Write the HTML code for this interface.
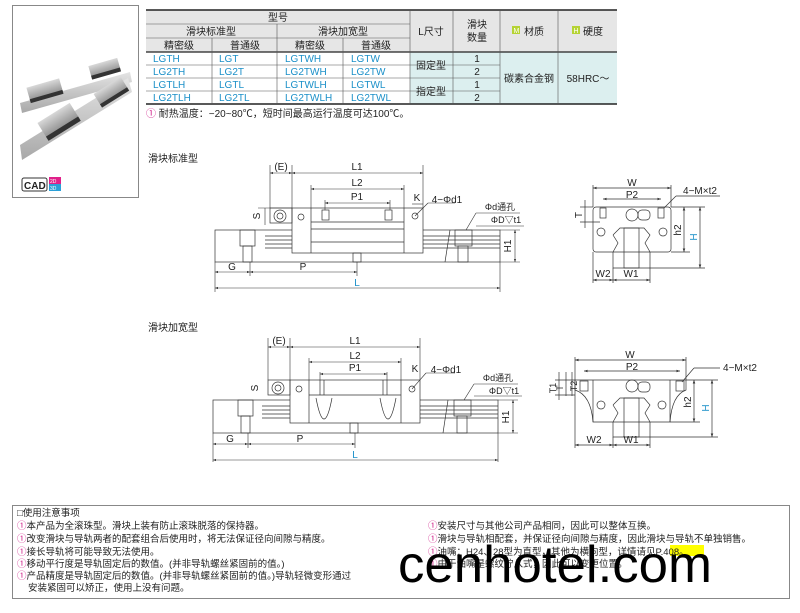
<!DOCTYPE html>
<html><head><meta charset="utf-8"><style>
body{margin:0;background:#fff;width:800px;height:608px;overflow:hidden;font-family:"Liberation Sans","Noto Sans CJK SC",sans-serif;}
svg text{font-family:"Liberation Sans","Noto Sans CJK SC",sans-serif;}
</style></head><body>
<svg width="800" height="608" viewBox="0 0 800 608" xmlns="http://www.w3.org/2000/svg">
<defs>
<marker id="a" viewBox="0 0 6 6" refX="6" refY="3" markerWidth="5" markerHeight="5" orient="auto-start-reverse"><path d="M0,0.8L6,3L0,5.2z" fill="#333"/></marker>
<linearGradient id="rg" x1="0" y1="0" x2="0" y2="1"><stop offset="0" stop-color="#e4e4e4"/><stop offset="1" stop-color="#a8a8a8"/></linearGradient>
<linearGradient id="bg" x1="0" y1="0" x2="0" y2="1"><stop offset="0" stop-color="#d8d8d8"/><stop offset="1" stop-color="#8a8a8a"/></linearGradient>
</defs>
<!-- left product panel -->
<rect x="12.5" y="5.5" width="126" height="192" fill="#fff" stroke="#888"/>
<g>
<polygon points="20,103 130,72 132,82 22,113" fill="url(#rg)"/>
<polygon points="20,145 128,78 132,92 22,160" fill="url(#rg)"/>
<g transform="rotate(-16 104 70)"><rect x="90" y="62" width="30" height="13" fill="url(#bg)"/><rect x="90" y="72" width="30" height="4" fill="#333"/></g>
<g transform="rotate(-16 44 91)"><rect x="28" y="83" width="34" height="15" fill="url(#bg)"/><rect x="28" y="95" width="34" height="4" fill="#333"/></g>
<g transform="rotate(-32 110 92)"><rect x="95" y="85" width="32" height="15" fill="url(#bg)"/><rect x="95" y="97" width="32" height="4" fill="#333"/></g>
<g transform="rotate(-32 58 122)"><rect x="40" y="112" width="38" height="19" fill="url(#bg)"/><rect x="40" y="128" width="38" height="5" fill="#333"/></g>
</g>
<rect x="22" y="178" width="25" height="13" fill="#fff" stroke="#333" rx="2"/>
<text x="24" y="189" font-size="10" font-weight="bold" fill="#222">CAD</text>
<rect x="49" y="177" width="12" height="7" fill="#e0208a"/><rect x="49" y="184" width="12" height="7" fill="#2aa0d8"/>
<text x="50" y="183" font-size="5" fill="#fff">2D</text><text x="50" y="190" font-size="5" fill="#fff">3D</text>

<!-- table -->
<g font-size="10" fill="#222">
<rect x="146" y="10" width="264" height="42" fill="#e6e6e6"/>
<rect x="410" y="10" width="207" height="42" fill="#e6e6e6"/>
<rect x="410" y="52" width="207" height="52" fill="#dcefef"/>
<g stroke="#555" stroke-width="0.6" fill="none">
<line x1="146" y1="10" x2="617" y2="10" stroke-width="1.6" stroke="#222"/>
<line x1="146" y1="24" x2="410" y2="24"/><line x1="146" y1="38" x2="410" y2="38"/>
<line x1="146" y1="52" x2="617" y2="52" stroke-width="1.2" stroke="#222"/>
<line x1="146" y1="65" x2="500" y2="65"/><line x1="146" y1="78" x2="500" y2="78"/><line x1="146" y1="91" x2="500" y2="91"/>
<line x1="146" y1="104" x2="617" y2="104" stroke-width="1.6" stroke="#222"/>
<line x1="212" y1="38" x2="212" y2="104"/><line x1="277" y1="24" x2="277" y2="104"/><line x1="343" y1="38" x2="343" y2="104"/>
<line x1="410" y1="10" x2="410" y2="104"/><line x1="453" y1="10" x2="453" y2="104"/><line x1="500" y1="10" x2="500" y2="104"/><line x1="558" y1="10" x2="558" y2="104"/>
</g>
<g text-anchor="middle">
<text x="278" y="21">型号</text>
<text x="211" y="35">滑块标准型</text><text x="343" y="35">滑块加宽型</text>
<text x="179" y="49">精密级</text><text x="245" y="49">普通级</text><text x="310" y="49">精密级</text><text x="376" y="49">普通级</text>
<text x="431" y="35">L尺寸</text><text x="477" y="28">滑块</text><text x="477" y="41">数量</text>
<text x="534" y="35">材质</text><text x="593" y="35">硬度</text>
<text x="431" y="69">固定型</text><text x="431" y="95">指定型</text>
<text x="477" y="62">1</text><text x="477" y="75">2</text><text x="477" y="88">1</text><text x="477" y="101">2</text>
<text x="529" y="82">碳素合金钢</text><text x="588" y="82">58HRC～</text>
</g>
<rect x="512" y="26" width="8" height="8" fill="#b5d334"/><text x="513.5" y="33" font-size="7" fill="#fff">M</text>
<rect x="572" y="26" width="8" height="8" fill="#b5d334"/><text x="573.5" y="33" font-size="7" fill="#fff">H</text>
<g fill="#1a8fc8">
<text x="153" y="62">LGTH</text><text x="219" y="62">LGT</text><text x="285" y="62">LGTWH</text><text x="351" y="62">LGTW</text>
<text x="153" y="75">LG2TH</text><text x="219" y="75">LG2T</text><text x="285" y="75">LG2TWH</text><text x="351" y="75">LG2TW</text>
<text x="153" y="88">LGTLH</text><text x="219" y="88">LGTL</text><text x="285" y="88">LGTWLH</text><text x="351" y="88">LGTWL</text>
<text x="153" y="101">LG2TLH</text><text x="219" y="101">LG2TL</text><text x="285" y="101">LG2TWLH</text><text x="351" y="101">LG2TWL</text>
</g>
<text x="146" y="117" font-size="10"><tspan fill="#d0208a">①</tspan> 耐热温度：−20~80℃，短时间最高运行温度可达100℃。</text>
</g>

<text x="148" y="162" font-size="10" fill="#222">滑块标准型</text>
<text x="148" y="331" font-size="10" fill="#222">滑块加宽型</text>

<!-- side view 1 -->
<g stroke="#333" stroke-width="0.7" fill="none">
<rect x="215" y="230" width="285" height="32"/>
<line x1="265" y1="236" x2="500" y2="236"/><line x1="265" y1="240" x2="500" y2="240"/><line x1="265" y1="244" x2="500" y2="244"/><line x1="265" y1="248" x2="500" y2="248"/>
<rect x="292" y="208" width="131" height="45" fill="#fff"/>
<line x1="311" y1="208" x2="311" y2="253"/><line x1="404" y1="208" x2="404" y2="253"/>
<line x1="311" y1="222" x2="404" y2="222"/><line x1="311" y1="229" x2="404" y2="229"/><line x1="311" y1="242" x2="404" y2="242"/>
<rect x="270" y="208" width="22" height="15"/>
<circle cx="280" cy="216" r="6"/><circle cx="280" cy="216" r="3"/>
<circle cx="301" cy="217" r="3"/><circle cx="415" cy="216" r="3"/>
<rect x="322" y="210" width="7" height="10"/><rect x="385" y="210" width="7" height="10"/>
<rect x="240" y="230" width="15" height="16"/><rect x="243" y="246" width="9" height="16"/>
<rect x="455" y="230" width="17" height="16"/><rect x="458" y="246" width="10" height="16"/>
<rect x="353" y="253" width="8" height="9"/>
<line x1="450" y1="230" x2="445" y2="262"/>
</g>
<g stroke="#333" stroke-width="0.6" fill="none">
<line x1="270" y1="165" x2="270" y2="208"/><line x1="292" y1="165" x2="292" y2="208"/><line x1="423" y1="165" x2="423" y2="208"/>
<line x1="270" y1="173" x2="292" y2="173" marker-start="url(#a)" marker-end="url(#a)"/>
<line x1="292" y1="173" x2="423" y2="173" marker-start="url(#a)" marker-end="url(#a)"/>
<line x1="311" y1="185" x2="311" y2="208"/><line x1="404" y1="185" x2="404" y2="208"/>
<line x1="311" y1="189" x2="404" y2="189" marker-start="url(#a)" marker-end="url(#a)"/>
<line x1="325" y1="200" x2="325" y2="210"/><line x1="390" y1="200" x2="390" y2="210"/>
<line x1="325" y1="203" x2="390" y2="203" marker-start="url(#a)" marker-end="url(#a)"/>
<line x1="412" y1="204" x2="423" y2="204"/>
<line x1="415" y1="216" x2="428" y2="203"/><line x1="428" y1="203" x2="455" y2="203"/>
<line x1="466" y1="230" x2="476" y2="213"/><line x1="476" y1="213" x2="520" y2="213"/>
<line x1="476" y1="226" x2="524" y2="226"/>
<line x1="265" y1="208" x2="265" y2="225"/><line x1="258" y1="208" x2="292" y2="208"/>
<line x1="500" y1="230" x2="520" y2="230"/><line x1="500" y1="262" x2="520" y2="262"/>
<line x1="515" y1="230" x2="515" y2="262" marker-start="url(#a)" marker-end="url(#a)"/>
<line x1="215" y1="262" x2="215" y2="292"/><line x1="500" y1="262" x2="500" y2="292"/><line x1="250" y1="262" x2="250" y2="276"/><line x1="357" y1="262" x2="357" y2="276"/>
<line x1="215" y1="272" x2="250" y2="272" marker-start="url(#a)" marker-end="url(#a)"/>
<line x1="250" y1="272" x2="357" y2="272" marker-start="url(#a)" marker-end="url(#a)"/>
<line x1="215" y1="288" x2="500" y2="288" marker-start="url(#a)" marker-end="url(#a)"/>
</g>
<g font-size="10" fill="#222" text-anchor="middle">
<text x="281" y="170">(E)</text><text x="357" y="170">L1</text><text x="357" y="186">L2</text><text x="357" y="200">P1</text>
<text x="417" y="201">K</text><text x="447" y="203">4−Φd1</text>
<text x="500" y="210" font-size="9">Φd通孔</text><text x="506" y="223" font-size="9">ΦD▽t1</text>
<text x="260" y="216" transform="rotate(-90 260 216)">S</text>
<text x="511" y="246" transform="rotate(-90 511 246)">H1</text>
<text x="232" y="270">G</text><text x="303" y="270">P</text><text x="357" y="286" fill="#1a8fc8">L</text>
</g>

<!-- side view 2 -->
<g stroke="#333" stroke-width="0.7" fill="none">
<rect x="213" y="400" width="285" height="33"/>
<line x1="262" y1="406" x2="498" y2="406"/><line x1="262" y1="410" x2="498" y2="410"/><line x1="262" y1="414" x2="498" y2="414"/><line x1="262" y1="418" x2="498" y2="418"/>
<rect x="290" y="380" width="130" height="43" fill="#fff"/>
<line x1="309" y1="380" x2="309" y2="423"/><line x1="401" y1="380" x2="401" y2="423"/>
<line x1="309" y1="395" x2="401" y2="395"/>
<path d="M316,398 Q324,440 332,398 M380,398 Q388,440 396,398"/>
<rect x="268" y="380" width="22" height="15"/>
<circle cx="278" cy="388" r="6"/><circle cx="278" cy="388" r="3"/>
<circle cx="299" cy="389" r="3"/><circle cx="412" cy="389" r="3"/>
<line x1="320" y1="380" x2="320" y2="395"/><line x1="324" y1="380" x2="324" y2="395"/><line x1="383" y1="380" x2="383" y2="395"/><line x1="387" y1="380" x2="387" y2="395"/>
<rect x="238" y="400" width="15" height="16"/><rect x="241" y="416" width="9" height="17"/>
<rect x="454" y="400" width="17" height="16"/><rect x="457" y="416" width="10" height="17"/>
<rect x="350" y="423" width="8" height="10"/>
<line x1="448" y1="400" x2="443" y2="433"/>
</g>
<g stroke="#333" stroke-width="0.6" fill="none">
<line x1="268" y1="338" x2="268" y2="380"/><line x1="290" y1="338" x2="290" y2="380"/><line x1="420" y1="338" x2="420" y2="380"/>
<line x1="268" y1="347" x2="290" y2="347" marker-start="url(#a)" marker-end="url(#a)"/>
<line x1="290" y1="347" x2="420" y2="347" marker-start="url(#a)" marker-end="url(#a)"/>
<line x1="309" y1="358" x2="309" y2="380"/><line x1="401" y1="358" x2="401" y2="380"/>
<line x1="309" y1="362" x2="401" y2="362" marker-start="url(#a)" marker-end="url(#a)"/>
<line x1="320" y1="372" x2="320" y2="380"/><line x1="387" y1="372" x2="387" y2="380"/>
<line x1="320" y1="374" x2="387" y2="374" marker-start="url(#a)" marker-end="url(#a)"/>
<line x1="412" y1="389" x2="426" y2="373"/><line x1="426" y1="373" x2="455" y2="373"/>
<line x1="464" y1="400" x2="474" y2="384"/><line x1="474" y1="384" x2="518" y2="384"/>
<line x1="474" y1="396" x2="522" y2="396"/>
<line x1="498" y1="400" x2="518" y2="400"/><line x1="498" y1="433" x2="518" y2="433"/>
<line x1="513" y1="400" x2="513" y2="433" marker-start="url(#a)" marker-end="url(#a)"/>
<line x1="213" y1="433" x2="213" y2="462"/><line x1="498" y1="433" x2="498" y2="462"/><line x1="248" y1="433" x2="248" y2="448"/><line x1="355" y1="433" x2="355" y2="448"/>
<line x1="213" y1="444" x2="248" y2="444" marker-start="url(#a)" marker-end="url(#a)"/>
<line x1="248" y1="444" x2="355" y2="444" marker-start="url(#a)" marker-end="url(#a)"/>
<line x1="213" y1="460" x2="498" y2="460" marker-start="url(#a)" marker-end="url(#a)"/>
</g>
<g font-size="10" fill="#222" text-anchor="middle">
<text x="279" y="344">(E)</text><text x="355" y="344">L1</text><text x="355" y="359">L2</text><text x="355" y="371">P1</text>
<text x="415" y="372">K</text><text x="446" y="373">4−Φd1</text>
<text x="498" y="381" font-size="9">Φd通孔</text><text x="504" y="394" font-size="9">ΦD▽t1</text>
<text x="258" y="388" transform="rotate(-90 258 388)">S</text>
<text x="509" y="417" transform="rotate(-90 509 417)">H1</text>
<text x="230" y="442">G</text><text x="300" y="442">P</text><text x="355" y="458" fill="#1a8fc8">L</text>
</g>

<!-- end view 1 -->
<g stroke="#333" stroke-width="0.7" fill="none">
<rect x="593" y="207" width="78" height="45" rx="3" fill="#fff"/>
<path d="M613,252 L613,268 L650,268 L650,252"/>
<path d="M613,235 L620,228 L644,228 L650,235 L645,243 L650,252 M613,235 L618,243 L613,252"/>
<rect x="624" y="228" width="15" height="40"/>
<circle cx="601" cy="232" r="4"/><circle cx="663" cy="232" r="4"/>
<rect x="600" y="208" width="6" height="10"/><rect x="658" y="208" width="6" height="10"/>
<circle cx="632" cy="215" r="6"/><rect x="638" y="210" width="12" height="10" rx="4"/>
<line x1="593" y1="185" x2="593" y2="207"/><line x1="671" y1="185" x2="671" y2="207"/>
<line x1="593" y1="188" x2="671" y2="188" marker-start="url(#a)" marker-end="url(#a)"/>
<line x1="603" y1="199" x2="661" y2="199" marker-start="url(#a)" marker-end="url(#a)"/>
<line x1="664" y1="208" x2="676" y2="196"/><line x1="676" y1="196" x2="720" y2="196"/>
<line x1="580" y1="207" x2="593" y2="207"/><line x1="580" y1="222" x2="600" y2="222"/>
<line x1="585" y1="200" x2="585" y2="228"/>
<line x1="671" y1="207" x2="705" y2="207"/><line x1="671" y1="252" x2="690" y2="252"/><line x1="650" y1="268" x2="705" y2="268"/>
<line x1="684" y1="207" x2="684" y2="252" marker-start="url(#a)" marker-end="url(#a)"/>
<line x1="700" y1="207" x2="700" y2="268" marker-start="url(#a)" marker-end="url(#a)"/>
<line x1="593" y1="252" x2="593" y2="283"/><line x1="613" y1="268" x2="613" y2="283"/><line x1="650" y1="268" x2="650" y2="283"/>
<line x1="593" y1="280" x2="613" y2="280" marker-start="url(#a)" marker-end="url(#a)"/>
<line x1="613" y1="280" x2="650" y2="280" marker-start="url(#a)" marker-end="url(#a)"/>
</g>
<g font-size="10" fill="#222" text-anchor="middle">
<text x="632" y="186">W</text><text x="632" y="198">P2</text><text x="700" y="194">4−M×t2</text>
<text x="582" y="215" transform="rotate(-90 582 215)">T</text>
<text x="681" y="230" transform="rotate(-90 681 230)">h2</text>
<text x="697" y="237" fill="#1a8fc8" transform="rotate(-90 697 237)">H</text>
<text x="603" y="277">W2</text><text x="631" y="277">W1</text>
</g>

<!-- end view 2 -->
<g stroke="#333" stroke-width="0.7" fill="none">
<path d="M575,380 L686,380 L686,390 Q672,395 670,422 L593,422 Q591,395 575,390 Z" fill="#fff"/>
<line x1="593" y1="380" x2="593" y2="422"/><line x1="670" y1="380" x2="670" y2="422"/>
<path d="M613,422 L613,437 L650,437 L650,422"/>
<path d="M613,405 L620,398 L644,398 L650,405 L645,413 L650,422 M613,405 L618,413 L613,422"/>
<rect x="624" y="398" width="15" height="39"/>
<circle cx="601" cy="405" r="4"/><circle cx="662" cy="405" r="4"/>
<rect x="580" y="381" width="8" height="10"/><rect x="676" y="381" width="8" height="10"/>
<circle cx="632" cy="386" r="6"/><rect x="638" y="382" width="12" height="10" rx="4"/>
<line x1="575" y1="357" x2="575" y2="448"/><line x1="686" y1="357" x2="686" y2="380"/>
<line x1="575" y1="360" x2="686" y2="360" marker-start="url(#a)" marker-end="url(#a)"/>
<line x1="584" y1="371" x2="680" y2="371" marker-start="url(#a)" marker-end="url(#a)"/>
<line x1="682" y1="382" x2="694" y2="368"/><line x1="694" y1="368" x2="720" y2="368"/>
<line x1="555" y1="380" x2="575" y2="380"/><line x1="555" y1="395" x2="575" y2="395"/>
<line x1="559" y1="372" x2="559" y2="400"/><line x1="566" y1="372" x2="566" y2="396"/><line x1="572" y1="372" x2="572" y2="396"/>
<line x1="686" y1="380" x2="718" y2="380"/><line x1="670" y1="422" x2="700" y2="422"/><line x1="650" y1="437" x2="718" y2="437"/>
<line x1="694" y1="380" x2="694" y2="422" marker-start="url(#a)" marker-end="url(#a)"/>
<line x1="712" y1="380" x2="712" y2="437" marker-start="url(#a)" marker-end="url(#a)"/>
<line x1="613" y1="437" x2="613" y2="448"/><line x1="650" y1="437" x2="650" y2="448"/>
<line x1="575" y1="445" x2="613" y2="445" marker-start="url(#a)" marker-end="url(#a)"/>
<line x1="613" y1="445" x2="650" y2="445" marker-start="url(#a)" marker-end="url(#a)"/>
</g>
<g font-size="10" fill="#222" text-anchor="middle">
<text x="630" y="358">W</text><text x="632" y="370">P2</text><text x="740" y="371">4−M×t2</text>
<text x="556" y="388" transform="rotate(-90 556 388)" font-size="9">T1</text>
<text x="563" y="388" transform="rotate(-90 563 388)" font-size="9">T</text>
<text x="577" y="386" transform="rotate(-90 577 386)" font-size="9">T2</text>
<text x="691" y="402" transform="rotate(-90 691 402)">h2</text>
<text x="709" y="408" fill="#1a8fc8" transform="rotate(-90 709 408)">H</text>
<text x="594" y="443">W2</text><text x="631" y="443">W1</text>
</g>

<!-- notes -->
<rect x="12.5" y="505.5" width="777" height="93" fill="none" stroke="#888"/>
<g font-size="9.5" fill="#222">
<text x="17" y="516">□使用注意事项</text>
<text x="17" y="529"><tspan fill="#d0208a">①</tspan>本产品为全滚珠型。滑块上装有防止滚珠脱落的保持器。</text>
<text x="17" y="542"><tspan fill="#d0208a">①</tspan>改变滑块与导轨两者的配套组合后使用时，将无法保证径向间隙与精度。</text>
<text x="17" y="555"><tspan fill="#d0208a">①</tspan>接长导轨将可能导致无法使用。</text>
<text x="17" y="567"><tspan fill="#d0208a">①</tspan>移动平行度是导轨固定后的数值。(并非导轨螺丝紧固前的值。)</text>
<text x="17" y="579"><tspan fill="#d0208a">①</tspan>产品精度是导轨固定后的数值。(并非导轨螺丝紧固前的值。)导轨轻微变形通过</text>
<text x="28" y="591">安装紧固可以矫正，使用上没有问题。</text>
<text x="428" y="529"><tspan fill="#d0208a">①</tspan>安装尺寸与其他公司产品相同，因此可以整体互换。</text>
<text x="428" y="542"><tspan fill="#d0208a">①</tspan>滑块与导轨相配套，并保证径向间隙与精度，因此滑块与导轨不单独销售。</text>
<rect x="670" y="545" width="34" height="11" fill="#ffff00"/>
<text x="428" y="555"><tspan fill="#d0208a">①</tspan>油嘴：H24、28型为直型，其他为横向型，详情请见P.408。</text>
<text x="428" y="567"><tspan fill="#d0208a">①</tspan>由于油嘴是螺纹拧入式，因此可以变更位置。</text>
</g>
<text x="398" y="582" font-size="52" fill="#000" textLength="314" lengthAdjust="spacingAndGlyphs">cenhotel.com</text>
</svg>
</body></html>
